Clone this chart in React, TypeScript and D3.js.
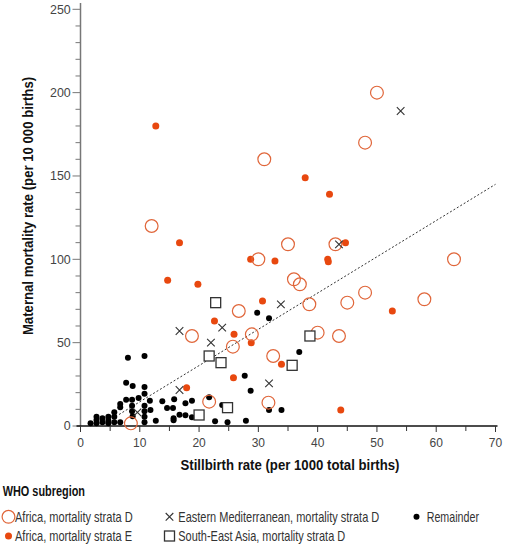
import React, { useLayoutEffect, useRef, useState } from "react";
import * as d3 from "d3";

const africaD: [number, number][] = [
  [50, 200], [48, 170], [31, 160], [12, 120], [35, 109], [43, 109], [30, 100], [63, 100],
  [36, 88], [37, 85], [48, 80], [38.6, 73], [45, 74], [58, 76], [40, 56], [43.6, 54],
  [32.5, 42], [31.7, 14], [26.7, 69], [18.8, 54], [25.7, 47.6], [28.9, 55], [21.7, 14.6], [8.5, 1.6],
];
const africaE: [number, number][] = [
  [12.7, 180], [16.7, 110], [37.9, 149], [42, 139], [44.7, 110], [28.7, 100], [32.8, 99],
  [41.7, 100], [41.8, 98.5], [14.7, 87.5], [19.8, 85], [17.9, 23], [22.6, 63], [25.9, 55],
  [25.8, 29], [28.8, 50], [30.7, 75], [52.6, 69], [33.9, 37], [43.9, 9.6],
];
const eastMed: [number, number][] = [
  [54, 189], [43.6, 109], [16.7, 57], [23.9, 59], [22, 50], [16.7, 21.6], [9.6, 8.2],
  [33.8, 73], [31.8, 25.6],
];
const seAsia: [number, number][] = [
  [22.8, 74], [21.7, 42], [23.7, 38], [20, 6.6], [24.8, 11], [38.7, 54], [35.7, 36.4],
];
const remainder: [number, number][] = [
  [1.7, 1.6], [2.7, 1.6], [2.7, 3.6], [2.7, 5.6], [3.7, 2.2], [3.7, 4.6], [4.7, 1.6], [4.7, 3.2],
  [4.7, 5.6], [5.7, 2.2], [5.7, 5.6], [5.7, 8.2], [6.7, 2.2], [6.7, 11.2], [6.7, 13.2], [7.7, 15.8],
  [7.7, 26], [8, 41], [8.7, 8.8], [8.8, 5.8], [8.7, 12.2], [8.7, 15.8], [8.8, 24], [9.8, 16.8],
  [10.8, 2.2], [10.8, 5.6], [10.8, 8.8], [10.8, 12.2], [10.8, 19.4], [10.8, 23.4], [10.8, 42],
  [11.7, 15.2], [11.8, 9.6], [12.7, 3.2], [13.8, 14.8], [14.6, 10.8], [15.6, 10.8], [15.8, 16],
  [15.7, 4.6], [15.7, 3.4], [16.7, 6.8], [17.7, 13.6], [17.7, 6.4], [18.8, 15.2], [18.8, 5.2],
  [21.7, 17.2], [22.7, 2.8], [23.9, 12.6], [24.8, 2.2], [27.7, 30.2], [28.7, 21.2], [27.9, 3.2],
  [29.8, 68], [31.8, 64.6], [36.9, 44.4], [31.8, 9.6], [33.9, 9.6],
];
const trendLine: [number, number][] = [[6.5, 6.9], [70, 145]];

const xTicks = d3.range(0, 71, 5);
const yTicks = d3.range(0, 251, 10);

const xTitle = "Stillbirth rate (per 1000 total births)";
const yTitle = "Maternal mortality rate (per 10 000 births)";
const legendTitle = "WHO subregion";
const legendItems = [
  { key: "afD", label: "Africa, mortality strata D" },
  { key: "afE", label: "Africa, mortality strata E" },
  { key: "em", label: "Eastern Mediterranean, mortality strata D" },
  { key: "sea", label: "South-East Asia, mortality strata D" },
  { key: "rem", label: "Remainder" },
];

const W = 506, H = 544;
const ORANGE = "#e8480f";
const ORANGE_LINE = "#e0663a";
const DARK = "#333";
const FONT = "'Liberation Sans', Arial, sans-serif";

// Text horizontally condensed (via a scale transform) to a target width, like a narrow face.
function FitText({ x, y, width, rotate = 0, anchor = "start", children, ...rest }: any) {
  const ref = useRef<SVGTextElement>(null);
  const [sx, setSx] = useState(0.78);
  useLayoutEffect(() => {
    if (ref.current) {
      const len = ref.current.getComputedTextLength();
      if (len > 0) setSx(width / len);
    }
  }, [width, children]);
  return (
    <g transform={`translate(${x},${y}) rotate(${rotate}) scale(${sx},1)`}>
      <text ref={ref} x={0} y={0} textAnchor={anchor} {...rest}>{children}</text>
    </g>
  );
}

function Marker({ kind, x, y }: { kind: string; x: number; y: number }) {
  if (kind === "afD")
    return <circle cx={x} cy={y} r={6.4} fill="none" stroke={ORANGE_LINE} strokeWidth={1.2} />;
  if (kind === "afE") return <circle cx={x} cy={y} r={3.5} fill={ORANGE} />;
  if (kind === "rem") return <circle cx={x} cy={y} r={3} fill="#000" />;
  if (kind === "em") {
    const s = 3.8;
    return (
      <path d={`M${x - s},${y - s}L${x + s},${y + s}M${x - s},${y + s}L${x + s},${y - s}`}
        stroke={DARK} strokeWidth={1.1} fill="none" />
    );
  }
  const s = 5;
  return <rect x={x - s} y={y - s} width={2 * s} height={2 * s} fill="white" stroke={DARK} strokeWidth={1.3} />;
}

export default function App() {
  const x = d3.scaleLinear().domain([0, 70]).range([80.5, 495.5]);
  const y = d3.scaleLinear().domain([0, 250]).range([426, 9.3]);
  const line = d3.line<[number, number]>().x((d) => x(d[0])).y((d) => y(d[1]));

  const series: { kind: string; data: [number, number][] }[] = [
    { kind: "rem", data: remainder },
    { kind: "afE", data: africaE },
    { kind: "afD", data: africaD },
    { kind: "sea", data: seAsia },
    { kind: "em", data: eastMed },
  ];

  const legendPos: Record<string, [number, number, number, number]> = {
    // marker x, row y, text x, text width
    afD: [8.5, 516.8, 15, 117.7],
    afE: [8.5, 536, 15, 117],
    em: [169.5, 516.8, 178.3, 201],
    sea: [169.5, 536, 178.3, 167],
    rem: [416.5, 516.8, 426.7, 52.3],
  };

  return (
    <svg width={W} height={H} style={{ position: "absolute", left: 0, top: 0, background: "#fff" }}
      fontFamily={FONT}>
      {/* y axis */}
      <line x1={x(0)} x2={x(0)} y1={y(0)} y2={3} stroke="#777" strokeWidth={1.5} />
      {yTicks.map((t) => (
        <g key={"y" + t}>
          <line x1={x(0) - (t % 50 === 0 ? 8 : 5)} x2={x(0)} y1={y(t)} y2={y(t)} stroke="#777" strokeWidth={1} />
          {t % 50 === 0 && (
            <FitText x={70.7} y={y(t)} width={String(t).length * 6.9} anchor="end" dy="0.35em"
              fontSize={12} fill="#444">{t}</FitText>
          )}
        </g>
      ))}
      {/* x axis */}
      <line x1={x(0) - 4} x2={x(70) + 2} y1={y(0)} y2={y(0)} stroke="#111" strokeWidth={1.3} />
      {xTicks.map((t) => (
        <g key={"x" + t}>
          <line x1={x(t)} x2={x(t)} y1={y(0)} y2={y(0) + (t % 10 === 0 ? 6 : 5)} stroke="#333" strokeWidth={1} />
          {t % 10 === 0 && (
            <text x={x(t)} y={447} textAnchor="middle" fontSize={12} fill="#444">{t}</text>
          )}
        </g>
      ))}
      <FitText x={290} y={469.5} width={219} anchor="middle" fontSize={15} fontWeight="bold" fill="#111">
        {xTitle}
      </FitText>
      <FitText x={33} y={206} rotate={-90} width={258} anchor="middle" fontSize={15} fontWeight="bold" fill="#111">
        {yTitle}
      </FitText>

      {/* trend line */}
      <path d={line(trendLine) || ""} stroke="#333" strokeWidth={1} strokeDasharray="2,2" fill="none" />

      {/* points */}
      {series.map((s) =>
        s.data.map((d, i) => <Marker key={s.kind + i} kind={s.kind} x={x(d[0])} y={y(d[1])} />)
      )}

      {/* legend */}
      <FitText x={2.7} y={496} width={82.3} fontSize={14} fontWeight="bold" fill="#111">{legendTitle}</FitText>
      {legendItems.map((it) => {
        const [mx, ly, tx, tw] = legendPos[it.key];
        return (
          <g key={it.key}>
            <Marker kind={it.key} x={mx} y={ly} />
            <FitText x={tx} y={ly} width={tw} dy="0.35em" fontSize={14} fill="#333">{it.label}</FitText>
          </g>
        );
      })}
    </svg>
  );
}
